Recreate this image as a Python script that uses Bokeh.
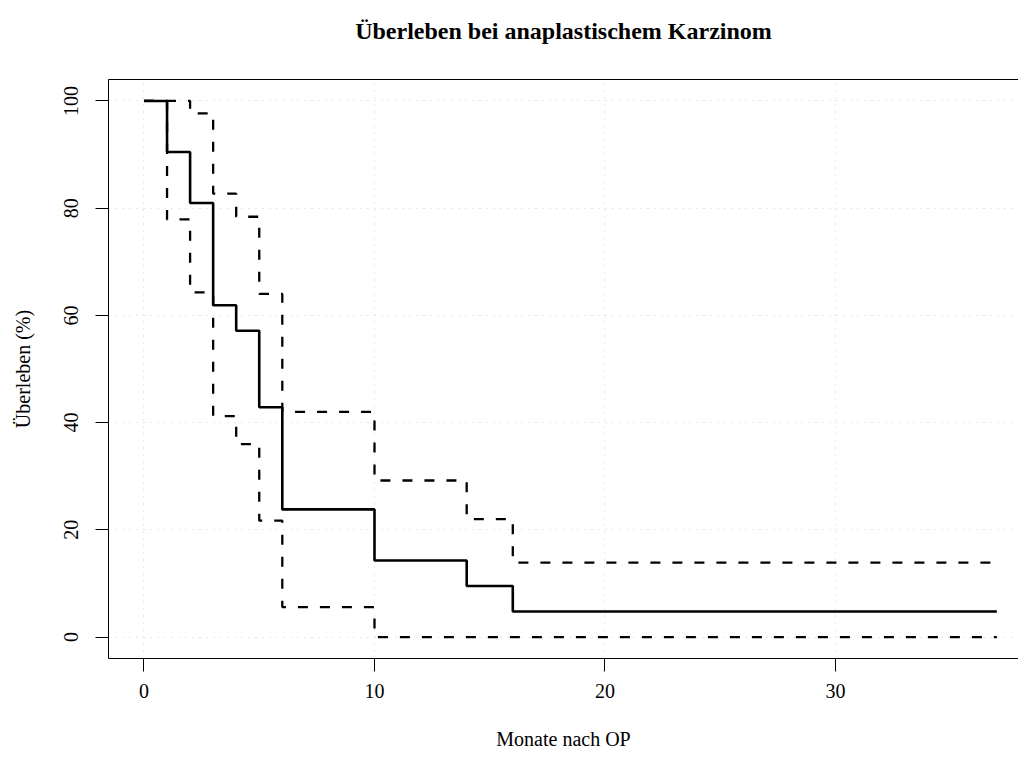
from bokeh.plotting import figure
from bokeh.models import FixedTicker, LinearAxis, Range1d
from bokeh.embed import file_html
from bokeh.resources import INLINE

# Kaplan-Meier estimate (percent) with confidence bounds
months = [0, 1, 2, 3, 4, 5, 6, 10, 14, 16, 37]
survival = [100, 90.48, 80.95, 61.90, 57.14, 42.86, 23.81, 14.29, 9.52, 4.76, 4.76]
upper_ci = [100, 100, 97.7, 82.7, 78.4, 64.0, 42.0, 29.2, 22.0, 13.9, 13.9]
lower_ci = [100, 77.9, 64.3, 41.2, 36.0, 21.7, 5.6, 0, 0, 0, 0]

x_ticks = [0, 10, 20, 30]
y_ticks = [0, 20, 40, 60, 80, 100]

title_text = "Überleben bei anaplastischem Karzinom"
x_label = "Monate nach OP"
y_label = "Überleben (%)"

FONT = "Liberation Serif"

p = figure(width=1018, height=758, output_backend="svg", toolbar_location=None,
           x_range=Range1d(-1.54, 37.94), y_range=Range1d(-4, 104),
           min_border_left=108, min_border_right=0, min_border_top=79, min_border_bottom=100)
p.outline_line_color = None
p.background_fill_color = "white"
p.border_fill_color = "white"

for ax in (p.xaxis[0], p.yaxis[0]):
    ax.axis_line_color = "black"
    ax.axis_line_width = 1
    ax.major_tick_in = 0
    ax.major_tick_out = 13
    ax.minor_tick_line_color = None
    ax.major_label_text_font = FONT
    ax.major_label_text_font_size = "20px"
    ax.major_label_text_color = "black"
    ax.axis_label_text_font = FONT
    ax.axis_label_text_font_size = "20px"
    ax.axis_label_text_font_style = "normal"
    ax.axis_label_text_color = "black"

p.xaxis[0].ticker = FixedTicker(ticks=x_ticks)
p.yaxis[0].ticker = FixedTicker(ticks=y_ticks)
p.xaxis[0].axis_label = x_label
p.yaxis[0].axis_label = y_label
p.xaxis[0].major_label_standoff = 12
p.xaxis[0].axis_label_standoff = 27
p.yaxis[0].major_label_orientation = "vertical"
p.yaxis[0].major_label_standoff = 17
p.yaxis[0].axis_label_standoff = 28

# top box edge, carrying the chart title as its label
top = LinearAxis(ticker=FixedTicker(ticks=[]), major_label_text_font_size="0px",
                 major_label_standoff=0,
                 major_tick_out=0, major_tick_in=0, minor_tick_out=0, minor_tick_in=0,
                 axis_line_color="black",
                 axis_label=title_text, axis_label_text_font=FONT,
                 axis_label_text_font_size="24px", axis_label_text_font_style="bold",
                 axis_label_text_color="black", axis_label_standoff=36)
p.add_layout(top, "above")

for g in (p.xgrid[0], p.ygrid[0]):
    g.grid_line_color = "#d0d0d0"
    g.grid_line_dash = "1 6"
    g.grid_line_width = 1

p.step(months, upper_ci, mode="after", line_color="black", line_width=2.3, line_dash="10 12")
p.step(months, lower_ci, mode="after", line_color="black", line_width=2.3, line_dash="10 12")
p.step(months, survival, mode="after", line_color="black", line_width=2.6)

open("out.html", "w").write(file_html(p, INLINE))
